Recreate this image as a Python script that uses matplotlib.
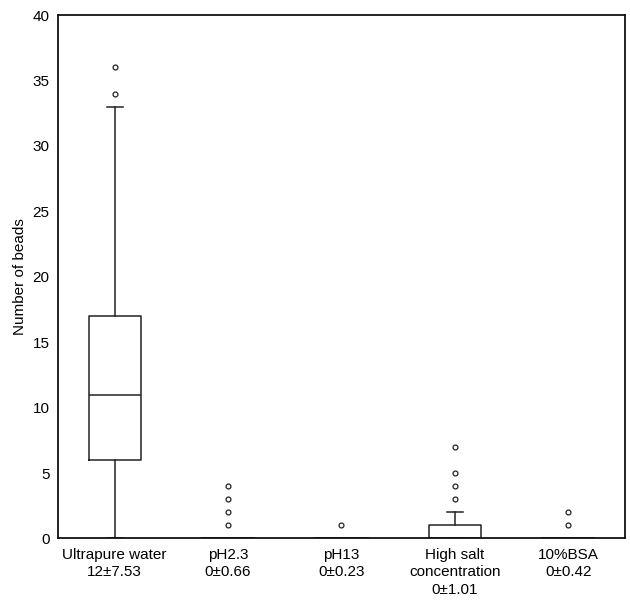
import matplotlib.pyplot as plt

plt.rcParams['font.family'] = ['Liberation Sans', 'DejaVu Sans']

labels = ["Ultrapure water\n12±7.53", "pH2.3\n0±0.66", "pH13\n0±0.23",
          "High salt\nconcentration\n0±1.01", "10%BSA\n0±0.42"]
q1 = [6, 0, 0, 0, 0]
med = [11, 0, 0, 0, 0]
q3 = [17, 0, 0, 1, 0]
whislo = [0, 0, 0, 0, 0]
whishi = [33, 0, 0, 2, 0]
fliers = [[34, 36], [1, 2, 3, 4], [1], [3, 4, 5, 7], [1, 2]]

stats = []
for i in range(len(labels)):
    stats.append(dict(q1=q1[i], med=med[i], q3=q3[i], whislo=whislo[i],
                      whishi=whishi[i], fliers=fliers[i], label=labels[i]))

fig = plt.figure(figsize=(6.3, 6.07), dpi=100)
ax = fig.add_axes([0.092, 0.113, 0.9, 0.862])

lw = 1.1
ax.bxp(stats, widths=0.46, showcaps=True,
       boxprops=dict(color='#222222', linewidth=lw),
       medianprops=dict(color='#222222', linewidth=lw),
       whiskerprops=dict(color='#222222', linewidth=lw),
       capprops=dict(color='#222222', linewidth=lw),
       capwidths=0.14,
       flierprops=dict(marker='o', markersize=3.5, markerfacecolor='none',
                       markeredgecolor='#222222', markeredgewidth=0.9))

ax.set_xlim(0.5, 5.5)
ax.set_ylim(0, 40)
ax.set_yticks(range(0, 41, 5))
ax.tick_params(axis='both', length=0, labelsize=11, pad=7)
ax.tick_params(axis='y', pad=6)
for t in ax.get_xticklabels():
    t.set_linespacing(1.3)
ax.set_ylabel("Number of beads", fontsize=11)
ax.yaxis.set_label_coords(-0.055, 0.5)
for s in ax.spines.values():
    s.set_linewidth(1.3)
    s.set_color('#111111')

plt.savefig("out.png", dpi=100)
